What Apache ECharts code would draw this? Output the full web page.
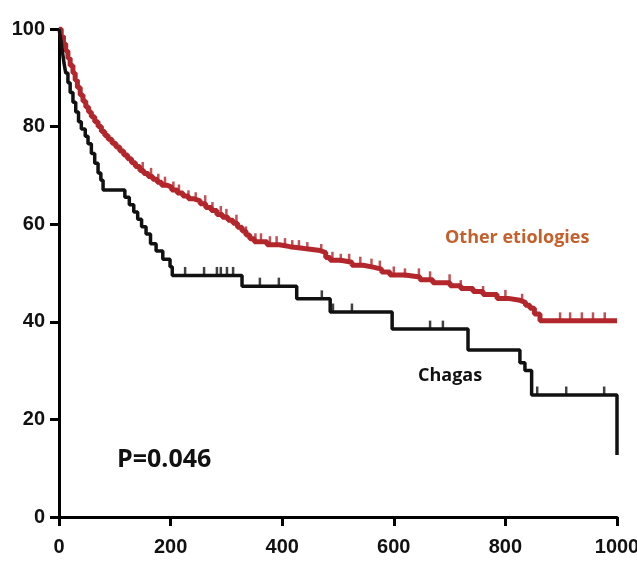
<!DOCTYPE html>
<html>
<head>
<meta charset="utf-8">
<script src="https://cdn.jsdelivr.net/npm/echarts@6/dist/echarts.min.js"></script>
<style>
  html, body { margin: 0; padding: 0; background: #fff; }
  #chart { width: 637px; height: 561px; }
</style>
</head>
<body>
<div id="chart"></div>
<script>
// Kaplan-Meier step points [days, % surviving]
const chagasSteps = [
  [0, 100], [3, 98], [6, 95.5], [9, 93], [12, 91], [16, 89], [20, 87], [25, 85],
  [30, 83], [35, 81], [40, 79.5], [47, 78], [52, 76.5], [58, 74.5], [64, 72.5],
  [70, 70.5], [75, 69], [79, 67], [118, 65.5], [126, 64], [134, 62.5], [141, 61],
  [148, 59.5], [156, 58], [164, 56], [174, 54.5], [186, 52.8], [199, 51.3],
  [203, 49.5], [328, 47.3], [426, 44.7], [486, 42], [597, 38.5], [733, 34.2],
  [826, 31.6], [835, 30], [847, 25], [1000, 25], [1000, 12.7]
]
const otherSteps = [
  [0, 100], [4, 98.5], [8, 97], [12, 95.5], [16, 94], [20, 92.5], [25, 91], [29, 89.5],
  [33, 88], [38, 86.5], [43, 85.2], [48, 84], [53, 83], [58, 82], [64, 81], [70, 80],
  [76, 79], [82, 78.2], [88, 77.4], [95, 76.6], [102, 75.8], [109, 75], [116, 74.2],
  [123, 73.4], [130, 72.6], [137, 71.8], [145, 71], [152, 70.4], [160, 69.8],
  [168, 69.2], [176, 68.6], [184, 68], [193, 67.6], [202, 67], [212, 66.4],
  [222, 65.8], [232, 65.2], [242, 64.8], [253, 64.2], [263, 63.4], [273, 62.8],
  [283, 62], [293, 61.4], [303, 60.8], [312, 60.2], [320, 59.4], [328, 58.6],
  [335, 57.8], [342, 57], [350, 56.4], [373, 55.8], [395, 55.4], [414, 55],
  [440, 54.6], [468, 54.2], [478, 53.2], [486, 52.6], [505, 52.2], [525, 51.6],
  [545, 51.2], [563, 50.8], [578, 50.2], [593, 49.6], [620, 49.2], [647, 48.6],
  [670, 48], [701, 47.4], [720, 46.8], [742, 46.2], [760, 45.6], [785, 44.8],
  [805, 44.4], [826, 44], [836, 43.4], [844, 42.8], [852, 41.6], [862, 40.2],
  [1000, 40.2]
]
// censored observations (days)
const chagasCensored = [226, 260, 283, 290, 301, 312, 360, 394, 471, 491, 525, 665, 688, 857, 909, 977]
const otherCensored = [
  150, 165, 178, 190, 205, 215, 232, 245, 262, 275, 290, 300, 318, 335, 352, 362,
  378, 390, 405, 418, 430, 445, 470, 490, 505, 520, 540, 560, 575, 600, 620, 645,
  665, 700, 720, 760, 800, 830, 898, 916, 937, 957, 978
]
const xTicks = [0, 200, 400, 600, 800, 1000]
const yTicks = [0, 20, 40, 60, 80, 100]

const chagasColor = '#111111'
const otherColor = '#b3262b'

// survival value at time t on a step curve
const valueAt = (steps, t) => {
  let v = steps[0][1]
  for (const [x, y] of steps) {
    if (x <= t) v = y
  }
  return v
}

const labelFont = {
  color: '#111',
  fontFamily: 'Liberation Sans Narrow, Liberation Sans, Arial',
  fontWeight: 'bold',
  fontSize: 20
}

const chart = echarts.init(document.getElementById('chart'))

const option = {
  animation: false,
  grid: { left: 59, right: 20, top: 29, bottom: 44, outerBoundsMode: 'none', containLabel: false },
  xAxis: {
    type: 'value',
    min: xTicks[0],
    max: xTicks[xTicks.length - 1],
    interval: 200,
    axisLine: { lineStyle: { color: '#000', width: 3 } },
    axisTick: { show: true, length: 9, lineStyle: { color: '#000', width: 3 } },
    axisLabel: { margin: 20, formatter: v => String(v), ...labelFont },
    splitLine: { show: false }
  },
  yAxis: {
    type: 'value',
    min: yTicks[0],
    max: yTicks[yTicks.length - 1],
    interval: 20,
    axisLine: { show: true, lineStyle: { color: '#000', width: 3 } },
    axisTick: { show: true, length: 9, lineStyle: { color: '#000', width: 3 } },
    axisLabel: { margin: 14, ...labelFont },
    splitLine: { show: false }
  },
  series: [
    {
      name: 'Other etiologies',
      type: 'line',
      step: 'end',
      data: otherSteps,
      showSymbol: false,
      lineStyle: { color: otherColor, width: 5 },
      z: 3
    },
    {
      name: 'Other censored',
      type: 'scatter',
      data: otherCensored.map(t => [t, valueAt(otherSteps, t)]),
      symbol: 'rect',
      symbolSize: [2.5, 9],
      symbolOffset: [0, -4],
      itemStyle: { color: otherColor },
      z: 3
    },
    {
      name: 'Chagas',
      type: 'line',
      step: 'end',
      data: chagasSteps,
      showSymbol: false,
      lineStyle: { color: chagasColor, width: 3.5 },
      z: 4
    },
    {
      name: 'Chagas censored',
      type: 'scatter',
      data: chagasCensored.map(t => [t, valueAt(chagasSteps, t)]),
      symbol: 'rect',
      symbolSize: [2.5, 9],
      symbolOffset: [0, -4],
      itemStyle: { color: chagasColor },
      z: 4
    }
  ],
  graphic: [
    {
      type: 'text',
      left: 445,
      top: 229,
      style: {
        text: 'Other etiologies',
        fill: '#c4602c',
        font: 'bold 18px "Open Sans", sans-serif'
      }
    },
    {
      type: 'text',
      left: 418,
      top: 367,
      style: {
        text: 'Chagas',
        fill: '#111',
        font: 'bold 18px "Open Sans", sans-serif'
      }
    },
    {
      type: 'text',
      left: 117,
      top: 447,
      style: {
        text: 'P=0.046',
        fill: '#111',
        font: 'bold 25px "Open Sans", sans-serif'
      }
    }
  ]
}

chart.setOption(option)
window.addEventListener('resize', () => chart.resize())
</script>
</body>
</html>
